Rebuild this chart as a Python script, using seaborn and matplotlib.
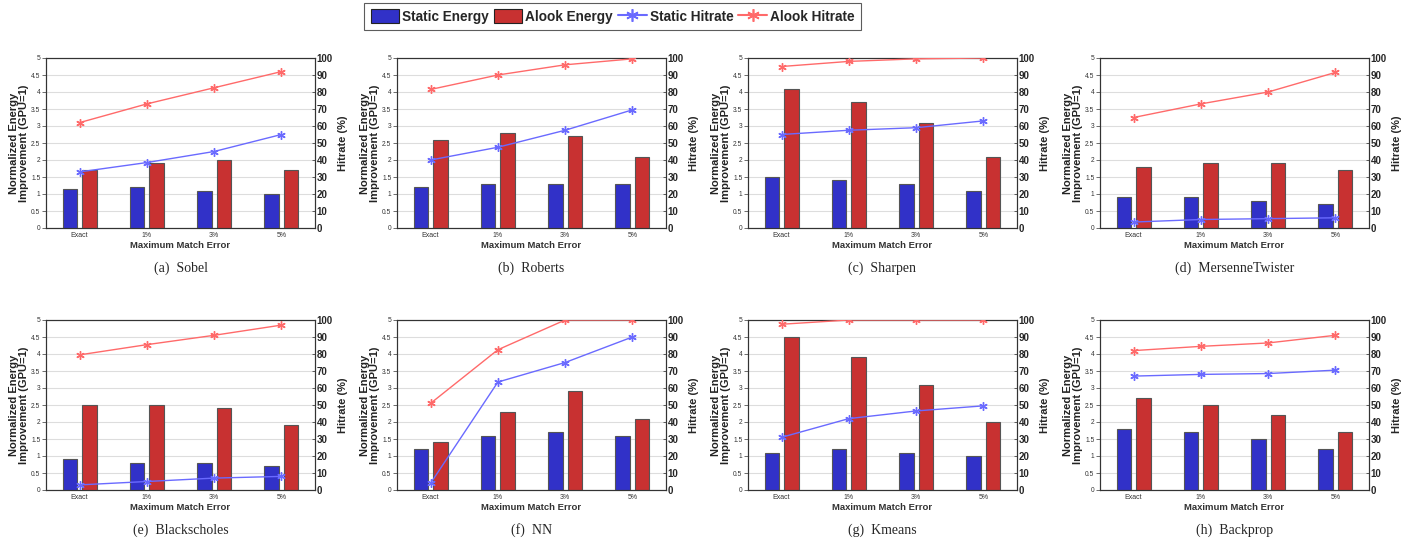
import numpy as np
import pandas as pd
import seaborn as sns
import matplotlib
matplotlib.use("Agg")
import matplotlib.pyplot as plt
from matplotlib.patches import Patch
from matplotlib.lines import Line2D

# x categories shared by every panel
errors = ["Exact", "1%", "3%", "5%"]

# panel names (caption order a..h)
benchmarks = ["Sobel", "Roberts", "Sharpen", "MersenneTwister",
              "Blackscholes", "NN", "Kmeans", "Backprop"]

# normalized energy improvement, GPU = 1
static_energy = {
    "Sobel": [1.15, 1.2, 1.1, 1.0],
    "Roberts": [1.2, 1.3, 1.3, 1.3],
    "Sharpen": [1.5, 1.4, 1.3, 1.1],
    "MersenneTwister": [0.9, 0.9, 0.8, 0.7],
    "Blackscholes": [0.9, 0.8, 0.8, 0.7],
    "NN": [1.2, 1.6, 1.7, 1.6],
    "Kmeans": [1.1, 1.2, 1.1, 1.0],
    "Backprop": [1.8, 1.7, 1.5, 1.2],
}
alook_energy = {
    "Sobel": [1.7, 1.9, 2.0, 1.7],
    "Roberts": [2.6, 2.8, 2.7, 2.1],
    "Sharpen": [4.1, 3.7, 3.1, 2.1],
    "MersenneTwister": [1.8, 1.9, 1.9, 1.7],
    "Blackscholes": [2.5, 2.5, 2.4, 1.9],
    "NN": [1.4, 2.3, 2.9, 2.1],
    "Kmeans": [4.5, 3.9, 3.1, 2.0],
    "Backprop": [2.7, 2.5, 2.2, 1.7],
}

# hitrate in percent
static_hit = {
    "Sobel": [33, 38.5, 45, 55],
    "Roberts": [40, 47.5, 57.5, 69.5],
    "Sharpen": [55, 57.5, 59, 63],
    "MersenneTwister": [3.5, 5, 5.5, 6],
    "Blackscholes": [3, 5, 7, 8],
    "NN": [4, 63.5, 75, 90],
    "Kmeans": [31, 42, 46.5, 49.5],
    "Backprop": [67, 68, 68.5, 70.5],
}
alook_hit = {
    "Sobel": [62, 73, 82.5, 92],
    "Roberts": [81.5, 90, 96, 99.5],
    "Sharpen": [95, 98, 99.5, 100],
    "MersenneTwister": [65, 73, 80, 91.5],
    "Blackscholes": [79.5, 85.5, 91, 97],
    "NN": [51, 82.5, 100, 100],
    "Kmeans": [97.5, 100, 100, 100],
    "Backprop": [82, 84.5, 86.5, 91],
}

blue_bar = "#3131c8"
red_bar = "#c83131"
blue_line = "#6a6aff"
red_line = "#ff6a6a"
asterisk = (6, 2, 0)  # matlab style asterisk marker

sns.set_style("white")
plt.rcParams["font.family"] = ["Liberation Sans", "DejaVu Sans"]

fig = plt.figure(figsize=(14.24, 5.55), dpi=100)

# axes lefts in pixels, rows as top pixels
col_left = [46, 397, 748, 1100]
row_top = [58, 320]
ax_w, ax_h = 269, 170
W, H = 1424, 555

for i, name in enumerate(benchmarks):
    r, c = divmod(i, 4)
    left = col_left[c] / W
    bottom = 1 - (row_top[r] + ax_h) / H
    ax = fig.add_axes([left, bottom, ax_w / W, ax_h / H])

    df = pd.DataFrame({
        "error": errors * 2,
        "energy": static_energy[name] + alook_energy[name],
        "kind": ["Static Energy"] * 4 + ["Alook Energy"] * 4,
    })
    sns.barplot(data=df, x="error", y="energy", hue="kind", order=errors,
                palette=[blue_bar, red_bar], width=0.58, gap=0.25,
                edgecolor="#555555", linewidth=0.8, saturation=1,
                legend=False, ax=ax, zorder=3)
    ax.set_xlim(-0.5, 3.5)
    ax.set_ylim(0, 5)
    yt = np.arange(0, 5.01, 0.5)
    ax.set_yticks(yt)
    ax.set_yticklabels([f"{v:g}" for v in yt], fontsize=4.8, color="#333333")
    ax.set_xticks(range(len(errors)))
    ax.set_xticklabels(errors, fontsize=5, color="#333333")
    ax.grid(axis="y", color="#dddddd", linewidth=0.8, zorder=0)
    ax.set_axisbelow(True)
    ax.tick_params(axis="y", direction="out", length=3, width=0.5, pad=1,
                   colors="#333333")
    ax.tick_params(axis="x", direction="in", length=2, width=0.5, pad=3,
                   colors="#333333")
    ax.set_xlabel("Maximum Match Error", fontsize=6.8, fontweight="bold",
                  labelpad=1, color="#333333")
    ax.set_ylabel("Normalized Energy\nImprovement (GPU=1)", fontsize=8,
                  fontweight="bold", linespacing=1.1, color="#222222")
    ax.yaxis.set_label_coords(-0.062, 0.5)
    for s in ax.spines.values():
        s.set_color("#333333")
        s.set_linewidth(0.8)

    ax2 = ax.twinx()
    pos = np.arange(len(errors))
    sns.lineplot(x=pos, y=static_hit[name], ax=ax2, color=blue_line,
                 marker=asterisk, markersize=6, markeredgewidth=1.0,
                 markeredgecolor=blue_line, linewidth=1.0, zorder=4)
    sns.lineplot(x=pos, y=alook_hit[name], ax=ax2, color=red_line,
                 marker=asterisk, markersize=6, markeredgewidth=1.0,
                 markeredgecolor=red_line, linewidth=1.0, zorder=4)
    ax2.set_xlim(-0.5, 3.5)
    ax2.set_ylim(0, 100)
    ax2.set_yticks(range(0, 101, 10))
    ax2.set_yticklabels([str(v) for v in range(0, 101, 10)], fontsize=7,
                        fontweight="bold")
    ax2.tick_params(direction="in", length=2, width=0.5, pad=1)
    ax2.set_ylabel("Hitrate (%)", fontsize=8, fontweight="bold", labelpad=4)
    for s in ax2.spines.values():
        s.set_color("#333333")
        s.set_linewidth(0.8)

    cap_y = 1 - (268 + r * 262) / H
    fig.text(left + ax_w / W / 2, cap_y, f"({'abcdefgh'[i]})  {name}",
             ha="center", va="center", fontsize=10,
             family=["Liberation Serif", "DejaVu Serif"])

handles = [
    Patch(facecolor=blue_bar, edgecolor="#222222", linewidth=0.8, label="Static Energy"),
    Patch(facecolor=red_bar, edgecolor="#222222", linewidth=0.8, label="Alook Energy"),
    Line2D([], [], color=blue_line, marker=asterisk, markersize=9, linewidth=1.5,
           markeredgewidth=1.2, label="Static Hitrate"),
    Line2D([], [], color=red_line, marker=asterisk, markersize=9, linewidth=1.5,
           markeredgewidth=1.2, label="Alook Hitrate"),
]
leg = fig.legend(handles=handles, loc="upper center", bbox_to_anchor=(0.4302, 0.995),
                 ncol=4, frameon=True, fancybox=False, edgecolor="#333333",
                 prop={"weight": "bold", "size": 9.8}, handlelength=2.1,
                 handletextpad=0.22, columnspacing=0.37, borderpad=0.45,
                 handleheight=1.25, borderaxespad=0)
leg.get_frame().set_linewidth(0.8)

fig.savefig("out.png", dpi=100)
